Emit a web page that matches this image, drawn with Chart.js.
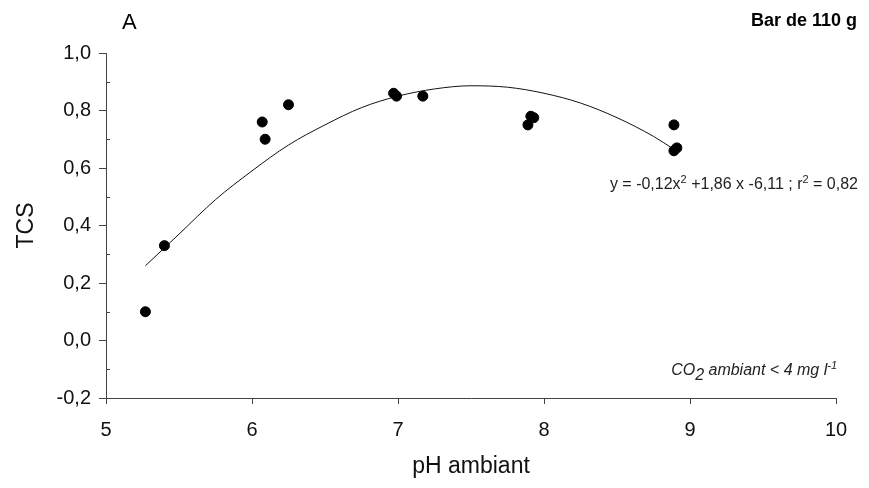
<!DOCTYPE html>
<html>
<head>
<meta charset="utf-8">
<script src="https://cdn.jsdelivr.net/npm/chart.js@4/dist/chart.umd.min.js"></script>
<style>
  body { margin: 0; background: #fff; }
  #wrap { position: relative; width: 869px; height: 488px; font-family: "Liberation Sans", Arial, sans-serif; }
  .note { position: absolute; color: #000; white-space: nowrap; }
  #panel { left: 122px; top: 9px; font-size: 22px; }
  #title { right: 12px; top: 10px; font-size: 18px; font-weight: bold; }
  #eq { right: 11px; top: 175px; font-size: 16px; color: #222; }
  #co2 { right: 32px; top: 361px; font-size: 16px; font-style: italic; color: #222; }
  sup { font-size: 11px; line-height: 0; }
  sub { font-size: 16px; line-height: 0; vertical-align: -5px; }
</style>
</head>
<body>
<div id="wrap">
  <canvas id="tcsChart" width="869" height="488"></canvas>
  <div class="note" id="panel">A</div>
  <div class="note" id="title">Bar de 110 g</div>
  <div class="note" id="eq">y = -0,12x<sup>2</sup> +1,86 x -6,11 ; r<sup>2</sup> = 0,82</div>
  <div class="note" id="co2">CO<sub>2</sub> ambiant &lt; 4 mg l<sup>-1</sup></div>
</div>
<script>
// ==========================================
// DATA
// ==========================================
const phValues  = [5.27, 5.40, 6.07, 6.09, 6.25, 6.97, 6.99, 7.17, 7.89, 7.91, 7.93, 8.89, 8.89, 8.91];
const tcsValues = [0.10, 0.33, 0.76, 0.70, 0.82, 0.86, 0.85, 0.85, 0.75, 0.78, 0.775, 0.75, 0.66, 0.67];

// fitted curve as it is drawn on the figure
const fitPh  = [5.27, 5.5, 5.75, 6.0, 6.25, 6.5, 6.75, 7.0, 7.25, 7.5, 7.75, 8.0, 8.25, 8.5, 8.75, 8.89];
const fitTcs = [0.26, 0.37, 0.49, 0.59, 0.68, 0.75, 0.81, 0.85, 0.875, 0.886, 0.881, 0.86, 0.826, 0.775, 0.71, 0.665];

const xTicks = [5, 6, 7, 8, 9, 10];
const yMin = -0.2, yMax = 1.0, yStep = 0.2;

const axisColor = '#444';
const fontFamily = 'Liberation Sans';

// small inside ticks between the labelled ones on the y axis
const minorTicks = {
    id: 'minorTicks',
    afterDraw(chart) {
        const y = chart.scales.y;
        const ctx = chart.ctx;
        ctx.save();
        ctx.strokeStyle = axisColor;
        ctx.lineWidth = 1;
        for (let v = yMin + yStep / 2; v < yMax; v += yStep) {
            const py = Math.round(y.getPixelForValue(v)) + 0.5;
            ctx.beginPath();
            ctx.moveTo(y.right, py);
            ctx.lineTo(y.right + 4, py);
            ctx.stroke();
        }
        ctx.restore();
    }
};

function fmt(v) {
    if (Math.abs(v) < 1e-9) v = 0;
    return v.toFixed(1).replace('.', ',');
}

const ctx = document.getElementById('tcsChart').getContext('2d');
new Chart(ctx, {
    type: 'scatter',
    data: {
        datasets: [
            {
                label: 'TCS',
                data: phValues.map((x, i) => ({ x: x, y: tcsValues[i] })),
                backgroundColor: '#000',
                borderColor: '#000',
                pointRadius: 5,
                pointHoverRadius: 5
            },
            {
                label: 'fit',
                data: fitPh.map((x, i) => ({ x: x, y: fitTcs[i] })),
                showLine: true,
                borderColor: '#111',
                borderWidth: 1,
                pointRadius: 0,
                cubicInterpolationMode: 'monotone',
                fill: false
            }
        ]
    },
    options: {
        responsive: false,
        animation: false,
        layout: { padding: { left: 0, top: 53, right: 33, bottom: 0 } },
        plugins: { legend: { display: false }, tooltip: { enabled: false } },
        scales: {
            x: {
                type: 'linear',
                min: 5, max: 10,
                afterBuildTicks: s => { s.ticks = xTicks.map(v => ({ value: v })); },
                afterFit: s => { s.height = 90; },
                ticks: { color: '#111', font: { size: 20, family: fontFamily }, padding: 14,
                         callback: v => String(v) },
                grid: { drawOnChartArea: false, drawTicks: true, tickLength: 6, color: axisColor },
                border: { color: axisColor, width: 1 },
                title: { display: true, text: 'pH ambiant', color: '#111',
                         font: { size: 23, family: fontFamily }, padding: { top: 10, bottom: 8 } }
            },
            y: {
                min: yMin, max: yMax,
                afterFit: s => { s.width = 106; },
                ticks: { stepSize: yStep, color: '#111', font: { size: 20, family: fontFamily }, padding: 8,
                         callback: v => fmt(v) },
                grid: { drawOnChartArea: false, drawTicks: true, tickLength: 7, color: axisColor },
                border: { color: axisColor, width: 1 },
                title: { display: true, text: 'TCS', color: '#111',
                         font: { size: 23, family: fontFamily }, padding: { top: 13, bottom: 4 } }
            }
        }
    },
    plugins: [minorTicks]
});
</script>
</body>
</html>
